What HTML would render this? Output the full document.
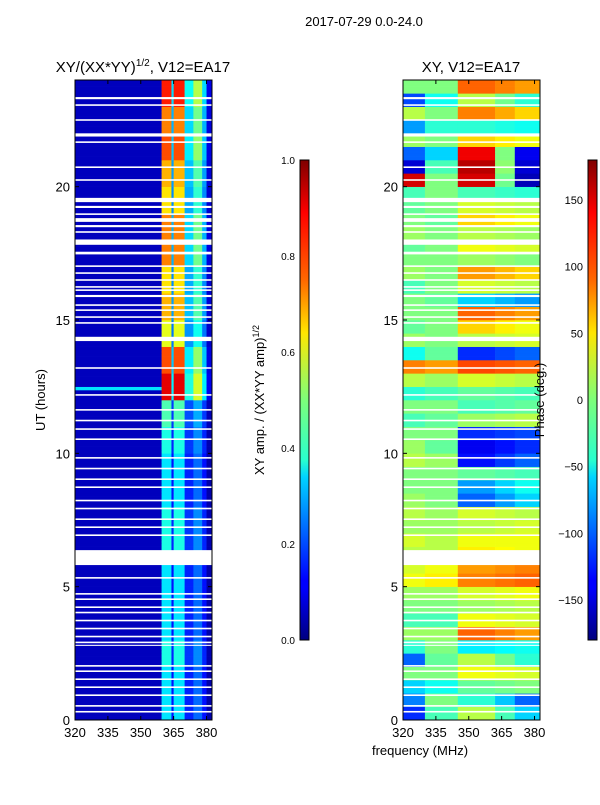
<!DOCTYPE html>
<html><head><meta charset="utf-8">
<style>
body{margin:0;background:#fff;font-family:"Liberation Sans",sans-serif;}
svg text{font-family:"Liberation Sans",sans-serif;fill:#000;}
</style></head>
<body>
<svg id="fig" width="600" height="800" xmlns="http://www.w3.org/2000/svg">
<defs>
<linearGradient id="jet" x1="0" y1="1" x2="0" y2="0">
<stop offset="0" stop-color="#00007f"/><stop offset="0.11" stop-color="#0000ff"/>
<stop offset="0.125" stop-color="#0000ff"/><stop offset="0.34" stop-color="#00d4ff"/>
<stop offset="0.375" stop-color="#29ffce"/><stop offset="0.5" stop-color="#7dff7a"/>
<stop offset="0.64" stop-color="#ffe600"/><stop offset="0.75" stop-color="#ff6800"/>
<stop offset="0.89" stop-color="#ff0000"/><stop offset="1" stop-color="#7f0000"/>
</linearGradient>
</defs>
<text x="364" y="26" font-size="13" text-anchor="middle">2017-07-29 0.0-24.0</text>
<text x="143" y="72" font-size="15" text-anchor="middle">XY/(XX*YY)<tspan font-size="10" dy="-6">1/2</tspan><tspan dy="6">, V12=EA17</tspan></text>
<text x="471" y="72" font-size="15" text-anchor="middle">XY, V12=EA17</text>
<g id="left"></g>
<g id="right"></g>
<g id="axes"></g>
<text transform="translate(45,400) rotate(-90)" font-size="13" text-anchor="middle">UT (hours)</text>
<text transform="translate(264,400) rotate(-90)" font-size="13" text-anchor="middle">XY amp. / (XX*YY amp)<tspan font-size="9" dy="-5">1/2</tspan></text>
<text transform="translate(544,400) rotate(-90)" font-size="13" text-anchor="middle">Phase (deg.)</text>
<text x="420" y="755" font-size="13" text-anchor="middle">frequency (MHz)</text>
<rect x="300" y="160" width="9" height="480" fill="url(#jet)" stroke="#000" stroke-width="1"/>
<rect x="588" y="160" width="9" height="480" fill="url(#jet)" stroke="#000" stroke-width="1"/>
</svg>
<script>
const hourTicks=[0,5,10,15,20];
const freqTicks=[320,335,350,365,380];
const ampTicks=[0.0,0.2,0.4,0.6,0.8,1.0];
const phaseTicks=[-150,-100,-50,0,50,100,150];
const gapHours=[[23.28,23.36],[23.03,23.09],[22.47,22.53],[21.88,22.0],[21.64,21.7],[20.7,20.76],[20.22,20.28],[19.42,19.58],[19.2,19.28],[18.94,19.0],[18.68,18.82],[18.48,18.56],[18.27,18.33],[17.82,18.02],[17.46,17.56],[16.99,17.05],[16.73,16.79],[16.47,16.53],[16.21,16.27],[16.09,16.15],[15.86,15.94],[15.53,15.59],[15.34,15.4],[15.08,15.14],[14.86,14.92],[14.21,14.37],[13.17,13.23],[12.16,12.22],[11.6,11.66],[11.2,11.26],[10.88,10.94],[10.5,10.56],[9.8,9.86],[9.4,9.46],[9.0,9.06],[8.7,8.76],[8.2,8.26],[7.9,7.96],[7.5,7.56],[7.2,7.26],[6.9,6.96],[5.81,6.37],[5.3,5.36],[4.7,4.76],[4.5,4.56],[4.2,4.26],[4.0,4.06],[3.7,3.76],[3.4,3.46],[3.1,3.16],[2.88,2.94],[2.78,2.82],[2.0,2.06],[1.8,1.86],[1.5,1.56],[1.2,1.26],[0.9,0.96],[0.5,0.56],[0.28,0.34]];
const ampActivity=[0.35,0.35,0.4,0.35,0.35,0.35,0.4,0.4,0.35,0.35,0.4,0.45,0.9,0.8,0.6,0.7,0.65,0.75,0.75,0.65,0.7,0.8,0.75,0.85];
const ampBandEdges=[320,359.5,364,365,370,374,378,380,382.5];
const ampBandWeight=[0.06,1.0,0.4,1.0,0.45,0.65,0.4,0.12];
const phaseBandEdges=[320,330,345,362,371,382.5];
const phaseA=[-120,-90,-60,0,-100,-30,10,-20,0,10,40,30,20,30,10,20,10,0,0,20,10,0,-20,0,-30,20,90,-40,10,-10,0,0,-20,10,0,-10,10,0,-10,-20,150,-150,-100,10,-80,20,-110,0];
const phaseB=[-20,0,-40,0,-10,0,10,-20,0,10,50,40,20,20,10,10,0,0,0,10,-10,0,-10,0,-20,10,80,-10,0,0,0,-10,0,0,0,0,0,-10,0,0,0,-20,-60,0,-30,0,-40,0];
const phaseC=[20,-30,-10,40,20,-50,100,40,10,30,90,80,50,40,20,30,-100,-80,-10,-130,-140,-120,10,-20,-10,30,110,-120,20,60,100,-60,30,80,10,40,20,60,30,-20,150,160,140,60,-30,90,20,100];
const phaseD=[-60,-100,0,30,-30,-40,80,30,20,40,100,90,40,40,30,20,-60,-40,-20,-100,-120,-110,20,-10,-20,20,100,-100,30,40,80,-80,20,60,0,30,10,40,20,-30,-160,-150,-140,40,-40,60,-30,80];
const NS="http://www.w3.org/2000/svg";
const yOf=h=>720-h*(640/24);
const xL=f=>75+(f-320)*(137/62.5);
const xR=f=>403+(f-320)*(137/62.5);
function jet(v){v=Math.max(0,Math.min(1,v));
 const r=Math.max(0,Math.min(1,1.5-Math.abs(4*v-3))),g=Math.max(0,Math.min(1,1.5-Math.abs(4*v-2))),b=Math.max(0,Math.min(1,1.5-Math.abs(4*v-1)));
 return `rgb(${Math.round(r*255)},${Math.round(g*255)},${Math.round(b*255)})`;}
function mk(tag,attrs,parent){const e=document.createElementNS(NS,tag);for(const k in attrs)e.setAttribute(k,attrs[k]);parent.appendChild(e);return e;}
const L=document.getElementById('left'),R=document.getElementById('right'),A=document.getElementById('axes');
const step=0.125;
for(let h=0;h<24;h+=step){
 const hi=Math.floor(h),hh=Math.floor(h*2);
 const y0=yOf(h+step),y1=yOf(h);
 for(let i=0;i<ampBandWeight.length;i++){
  let v=i===0?0.06:ampActivity[hi]*ampBandWeight[i];
  if(i===0&&h>=12.35&&h<12.5)v=0.35;
  const c=mk('rect',{x:xL(ampBandEdges[i]),y:y0,width:xL(ampBandEdges[i+1])-xL(ampBandEdges[i])+0.3,height:y1-y0+0.3,fill:jet(v)},L);
  
  
 }
 const ph=[phaseA[hh],phaseB[hh],phaseC[hh],phaseC[hh]*0.5+phaseD[hh]*0.5,phaseD[hh]];
 for(let i=0;i<phaseBandEdges.length-1;i++){
  const v=(ph[i]+180)/360;
  const c=mk('rect',{x:xR(phaseBandEdges[i]),y:y0,width:xR(phaseBandEdges[i+1])-xR(phaseBandEdges[i])+0.3,height:y1-y0+0.3,fill:jet(v)},R);
  
  
 }
}
for(const g of gapHours){
 for(const [P,xf] of [[L,xL],[R,xR]]){
  const r=mk('rect',{x:xf(320),y:yOf(g[1]),width:137,height:yOf(g[0])-yOf(g[1]),fill:'#fff'},P);
  
  
 }
}
for(const [x0,xf,nm] of [[75,xL,'left'],[403,xR,'right']]){
 const f=mk('rect',{x:x0,y:80,width:137,height:640,fill:'none',stroke:'#000','stroke-width':1},A);
 
 
 for(const t of hourTicks){
  const y=yOf(t);
  mk('line',{x1:x0,x2:x0+4,y1:y,y2:y,stroke:'#000'},A);
  mk('line',{x1:x0+133,x2:x0+137,y1:y,y2:y,stroke:'#000'},A);
  const tx=mk('text',{x:x0-5,y:y+5,'font-size':13,'text-anchor':'end'},A);tx.textContent=t;
  
  
 }
 for(const t of freqTicks){
  const x=xf(t);
  mk('line',{x1:x,x2:x,y1:720,y2:716,stroke:'#000'},A);
  mk('line',{x1:x,x2:x,y1:80,y2:84,stroke:'#000'},A);
  const tx=mk('text',{x:x,y:737,'font-size':13,'text-anchor':'middle'},A);tx.textContent=t;
  
  
 }
}
for(const t of ampTicks){
 const y=640-t*480;
 mk('line',{x1:305,x2:309,y1:y,y2:y,stroke:'#000'},A);
 const tx=mk('text',{x:295,y:y+4,'font-size':10,'text-anchor':'end'},A);tx.textContent=t.toFixed(1);
 
 
}
for(const t of phaseTicks){
 const y=640-(t+180)/360*480;
 mk('line',{x1:593,x2:597,y1:y,y2:y,stroke:'#000'},A);
 const tx=mk('text',{x:583,y:y+4,'font-size':11,'text-anchor':'end'},A);tx.textContent=t<0?'\u2212'+(-t):t;
 
 
}
</script>
</body></html>
